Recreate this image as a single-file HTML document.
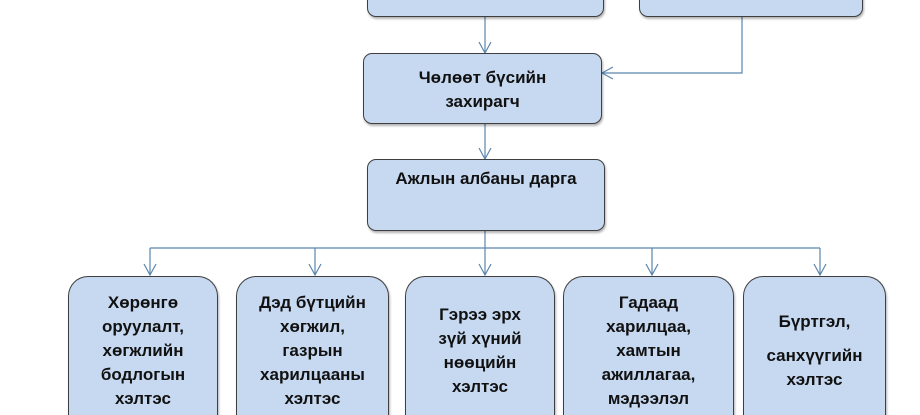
<!DOCTYPE html>
<html style="overflow:hidden"><head><meta charset="utf-8"><style>
html,body{margin:0;width:920px;height:415px;overflow:hidden}
body{background:#fff;position:relative;font-family:"Liberation Sans",Arial,sans-serif}
.b{position:absolute;box-sizing:border-box;background:#c6d9f1;border:1.5px solid #3f3f3f;box-shadow:1px 2px 2px rgba(0,0,0,.3);font-weight:bold;font-size:17px;line-height:24px;text-align:center;color:#111;overflow:hidden}
.s{border-radius:9px}
.r{border-radius:20px 20px 0 0;padding-top:14px;border-bottom:none}
svg{position:absolute;left:0;top:0}
</style></head><body>
<svg width="920" height="415">
<g stroke="#5b86ad" stroke-width="1.2" fill="none">
<path d="M485 16V53"/><path d="M479 42L485 53L491 42"/>
<path d="M742 16V73H602"/><path d="M613 67L602 73L613 79"/>
<path d="M485 124V159"/><path d="M479 148L485 159L491 148"/>
<path d="M485 231V248"/><path d="M150 248H820"/>
<path d="M150 248V275M315 248V275M485 248V275M652 248V275M820 248V275"/>
<path d="M144 264L150 275L156 264M309 264L315 275L321 264M479 264L485 275L491 264M646 264L652 275L658 264M814 264L820 275L826 264"/>
</g></svg>
<div class="b s" style="left:367px;top:-20px;width:237px;height:37px"></div>
<div class="b s" style="left:639px;top:-20px;width:224px;height:37px"></div>
<div class="b s" style="left:363px;top:53px;width:239px;height:71px;padding-top:12px">Чөлөөт бүсийн<br>захирагч</div>
<div class="b s" style="left:367px;top:159px;width:238px;height:72px;padding-top:7px">Ажлын албаны дарга</div>
<div class="b r" style="left:68px;top:276px;width:150px;height:139px">Хөрөнгө<br>оруулалт,<br>хөгжлийн<br>бодлогын<br>хэлтэс</div>
<div class="b r" style="left:236px;top:276px;width:153px;height:139px">Дэд бүтцийн<br>хөгжил,<br>газрын<br>харилцааны<br>хэлтэс</div>
<div class="b r" style="left:405px;top:276px;width:150px;height:139px;padding-top:26px">Гэрээ эрх<br>зүй хүний<br>нөөцийн<br>хэлтэс</div>
<div class="b r" style="left:563px;top:276px;width:171px;height:139px;padding-top:14px">Гадаад<br>харилцаа,<br>хамтын<br>ажиллагаа,<br>мэдээлэл<br>технологийн</div>
<div class="b r" style="left:743px;top:276px;width:143px;height:139px;padding-top:33px">Бүртгэл,<br><span style="display:block;height:10px"></span>санхүүгийн<br>хэлтэс</div>
</body></html>
